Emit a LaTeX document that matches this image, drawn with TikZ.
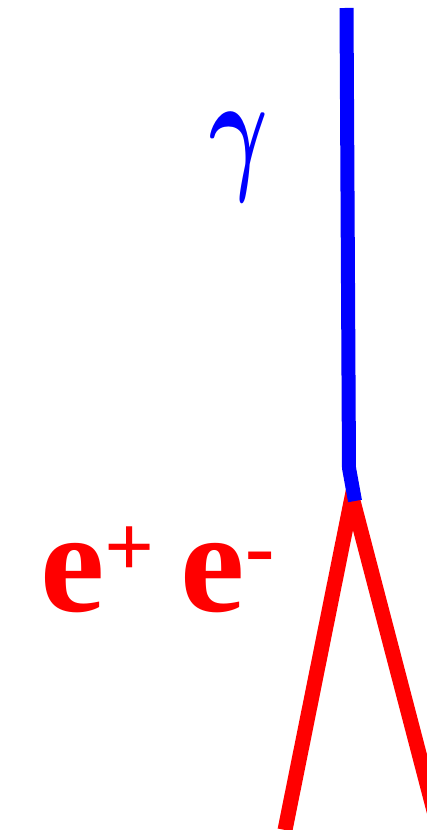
\documentclass[tikz,border=0pt]{standalone}
\usepackage{amsmath}
\usepackage{fontspec}
\newfontfamily\labelfont{Liberation Serif}
\usetikzlibrary{calc}

\begin{document}
\begin{tikzpicture}[x=1pt,y=1pt]
            \useasboundingbox (0,0) rectangle (427,830);

            % Points of the vertex
            \coordinate (top) at (346.5,822);
            \coordinate (kink) at (349,362);
            \coordinate (vtx) at (352,333);
            \coordinate (pos) at (285,0);
            \coordinate (ele) at (439,0);

            % Pair lines
            \draw[red, line width=15pt] (pos) -- (vtx) -- (ele);

            % Photon line
            \draw[blue, line width=14pt] (top) -- (kink) -- ($(vtx)+(3,-4)$);

            % Labels
            \node[blue, anchor=base, inner sep=0pt] (gam) at (239,655) {\scalebox{9}[13.9]{$\boldsymbol{\gamma}$}};
            \node[red, font=\labelfont\fontsize{145}{145}\selectfont\bfseries, anchor=base west, inner sep=0pt] (pair) at (40,218)
                {e\raisebox{35pt}{\fontsize{88}{88}\selectfont+}\hspace{26pt}e\raisebox{35pt}{\fontsize{88}{88}\selectfont-}};
        \end{tikzpicture}
\end{document}
